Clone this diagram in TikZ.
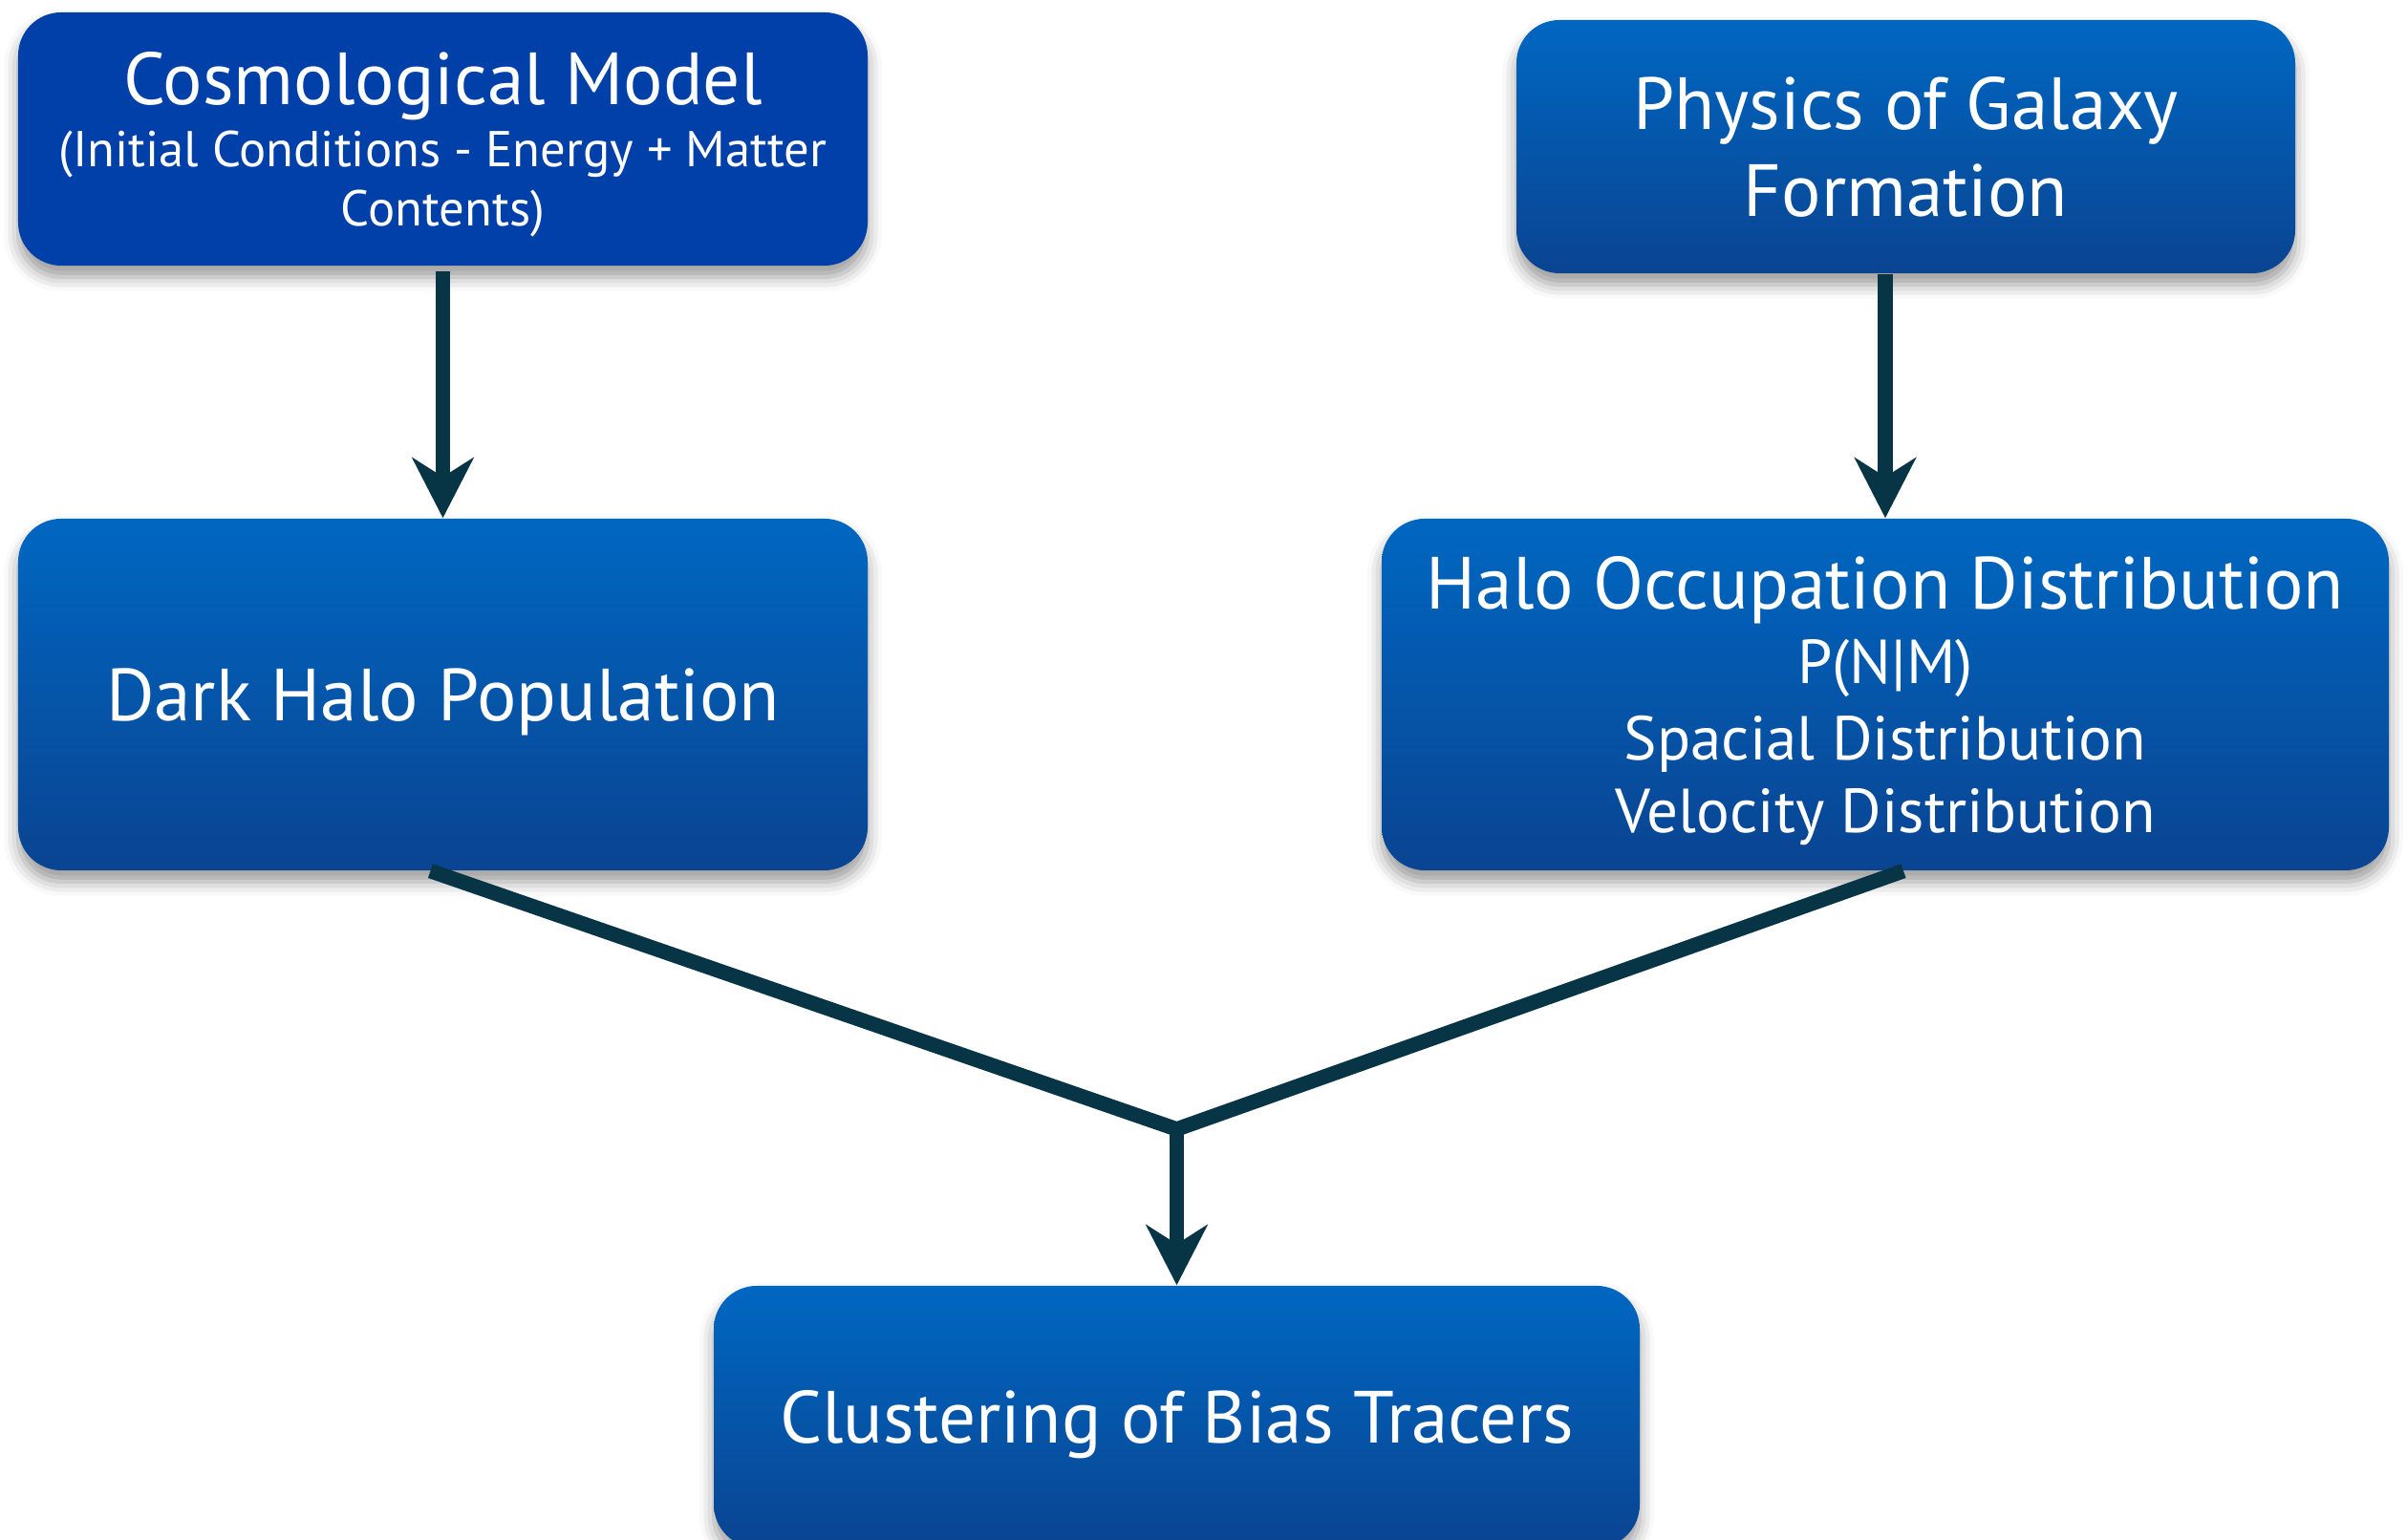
\documentclass[tikz,border=0pt]{standalone}
\usepackage{fontspec}
\setmainfont{PT Sans}
\usetikzlibrary{arrows.meta,shadows.blur}
\definecolor{boxtop}{RGB}{0,103,193}
\definecolor{boxbot}{RGB}{10,68,146}
\definecolor{cosmoblue}{RGB}{0,64,168}
\definecolor{linkcol}{RGB}{8,53,70}
\tikzset{
  box/.style={rounded corners=0.45cm, top color=boxtop, bottom color=boxbot,
    text=white, align=center, inner sep=0pt, text depth=0pt,
    blur shadow={shadow xshift=0pt, shadow yshift=-0.12cm,
      shadow blur radius=0.15cm, shadow opacity=40}},
  link/.style={draw=linkcol, line width=4.4pt, line join=miter},
  arr/.style={link, -{Stealth[length=6.3mm,width=6.4mm,inset=2mm]}},
}
\newcommand{\bigtxt}{\fontsize{22}{25.6}\selectfont}
\newcommand{\midtxt}{\fontsize{18.5}{22.8}\selectfont}
\newcommand{\smalltxt}{\fontsize{15}{17.4}\selectfont}
\begin{document}
\begin{tikzpicture}
    \useasboundingbox (0,0) rectangle (25.19,16.12);
    % Boxes
    \node[box, top color=cosmoblue, bottom color=cosmoblue,
      minimum width=8.89cm, minimum height=2.65cm] (cosmo) at (4.635,14.665)
      {\bigtxt Cosmological Model\\[2pt]
       \smalltxt (Initial Conditions - Energy + Matter\\[2.7pt] \smalltxt Contents)};
    \node[box, minimum width=8.15cm, minimum height=2.65cm] (physics) at (19.945,14.585)
      {\bigtxt Physics of Galaxy\\[5pt] \bigtxt Formation};
    \node[box, minimum width=8.89cm, minimum height=3.68cm] (halo) at (4.635,8.85)
      {\bigtxt Dark Halo Population};
    \node[box, minimum width=10.54cm, minimum height=3.68cm] (hod) at (19.73,8.85)
      {\bigtxt Halo Occupation Distribution\\[3.5pt]
       \midtxt P(N|M)\\[4.6pt] \midtxt Spacial Distribution\\[3.7pt] \midtxt Velocity Distribution};
    \node[box, minimum width=9.69cm, minimum height=2.74cm] (cluster) at (12.315,1.29)
      {\bigtxt Clustering of Bias Tracers};
    \coordinate (join) at (12.315,4.30);
    % Arrows
    \draw[arr] ([yshift=-0.5mm]cosmo.south) -- (halo.north);
    \draw[arr] (hod.north |- physics.south) -- (hod.north);
    \draw[link] ([xshift=-1.3mm]halo.south) -- (join) -- ([xshift=1.9mm]hod.south);
    \draw[arr] (join) -- (cluster.north);
\end{tikzpicture}
\end{document}
